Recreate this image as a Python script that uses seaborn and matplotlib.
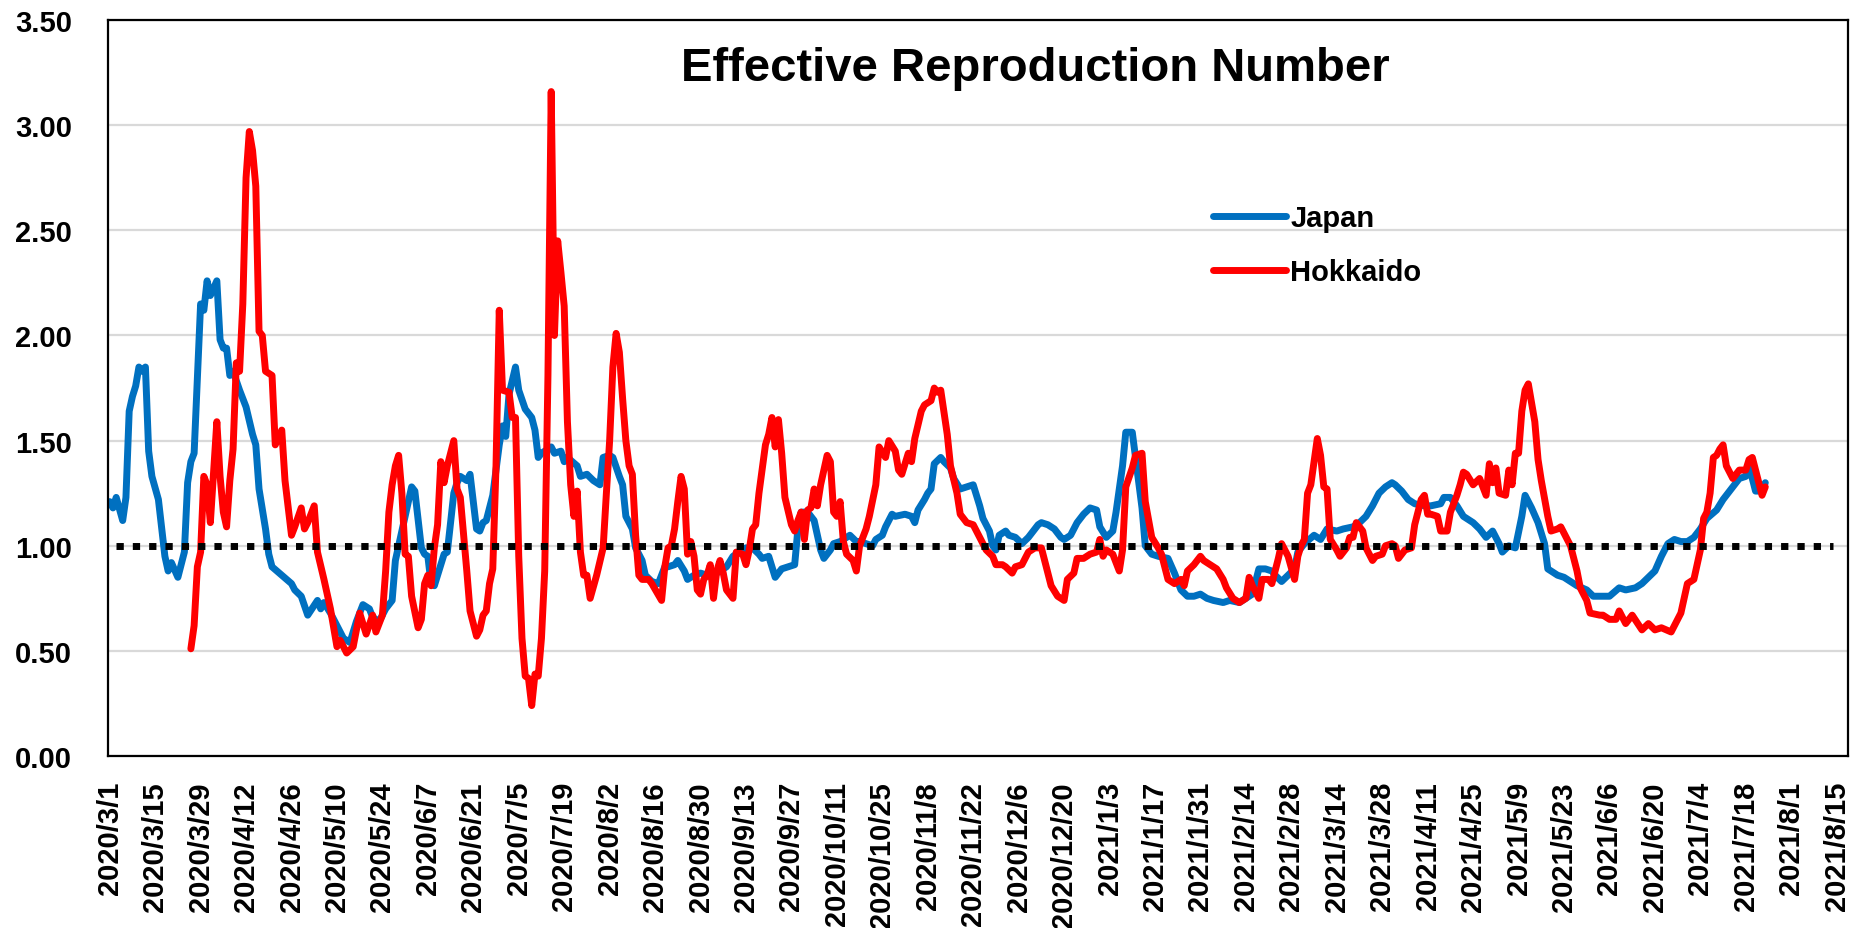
import pandas as pd
import numpy as np
import matplotlib
matplotlib.use("Agg")
import matplotlib.pyplot as plt
from matplotlib.ticker import FormatStrFormatter
import seaborn as sns

# day offsets from 2020/3/1 and the R values
start = pd.Timestamp("2020-03-01")

jp_day = [0, 1, 2, 4, 5, 6, 7, 8, 9, 10,
          11, 12, 13, 15, 17, 18, 19, 21, 23, 24,
          25, 26, 27, 28, 29, 30, 31, 33, 34, 35,
          36, 37, 38, 40, 42, 44, 45, 46, 48, 49,
          50, 53, 56, 57, 59, 61, 64, 65, 66, 68,
          70, 72, 74, 76, 78, 80, 81, 83, 85, 87,
          88, 91, 93, 94, 96, 97, 98, 99, 100, 101,
          103, 104, 106, 107, 108, 110, 111, 113, 114, 115,
          116, 117, 118, 120, 121, 122, 123, 125, 126, 128,
          130, 131, 132, 133, 136, 137, 139, 140, 141, 144,
          145, 147, 149, 151, 152, 154, 155, 157, 158, 159,
          161, 162, 164, 165, 167, 169, 171, 172, 174, 175,
          177, 178, 180, 182, 184, 186, 188, 190, 192, 194,
          196, 198, 200, 201, 203, 205, 207, 209, 211, 212,
          213, 215, 217, 219, 220, 222, 223, 225, 228, 230,
          231, 233, 235, 236, 238, 239, 241, 242, 245, 247,
          248, 249, 251, 252, 253, 254, 256, 257, 259, 260,
          262, 264, 266, 268, 269, 271, 272, 273, 274, 276,
          277, 279, 281, 283, 286, 287, 289, 291, 293, 294,
          296, 298, 300, 302, 304, 305, 307, 309, 310, 312,
          313, 315, 316, 318, 319, 321, 323, 326, 328, 330,
          332, 334, 336, 338, 340, 343, 345, 348, 350, 352,
          354, 356, 358, 359, 361, 363, 365, 366, 368, 371,
          373, 375, 378, 380, 383, 385, 387, 389, 391, 393,
          395, 396, 398, 400, 402, 405, 407, 410, 411, 413,
          415, 417, 420, 422, 424, 426, 428, 429, 431, 433,
          435, 436, 438, 440, 442, 443, 446, 448, 450, 452,
          455, 457, 462, 465, 467, 470, 472, 474, 476, 478,
          480, 482, 484, 486, 488, 490, 492, 495, 497, 500,
          502, 504, 505, 507, 509, 510]
jp_r = [1.21, 1.18, 1.23, 1.12, 1.23, 1.64, 1.71, 1.76, 1.85, 1.83,
        1.85, 1.45, 1.33, 1.22, 0.95, 0.88, 0.92, 0.85, 0.97, 1.30,
        1.40, 1.44, 1.80, 2.15, 2.12, 2.26, 2.19, 2.26, 1.98, 1.94,
        1.94, 1.81, 1.83, 1.74, 1.66, 1.53, 1.48, 1.27, 1.08, 0.96,
        0.90, 0.86, 0.82, 0.79, 0.76, 0.67, 0.74, 0.70, 0.73, 0.68,
        0.62, 0.56, 0.54, 0.64, 0.72, 0.70, 0.66, 0.64, 0.70, 0.74,
        0.93, 1.14, 1.28, 1.26, 0.99, 0.96, 0.95, 0.82, 0.81, 0.86,
        0.96, 0.97, 1.25, 1.30, 1.33, 1.31, 1.34, 1.08, 1.07, 1.11,
        1.12, 1.18, 1.24, 1.48, 1.57, 1.52, 1.72, 1.85, 1.74, 1.65,
        1.61, 1.55, 1.42, 1.44, 1.47, 1.44, 1.45, 1.40, 1.42, 1.38,
        1.33, 1.34, 1.31, 1.29, 1.42, 1.43, 1.42, 1.33, 1.29, 1.14,
        1.08, 0.99, 0.93, 0.86, 0.83, 0.82, 0.90, 0.90, 0.91, 0.93,
        0.88, 0.84, 0.86, 0.87, 0.86, 0.86, 0.88, 0.90, 0.95, 0.97,
        0.99, 0.99, 0.96, 0.94, 0.95, 0.85, 0.89, 0.90, 0.91, 1.08,
        1.16, 1.16, 1.12, 0.98, 0.94, 0.98, 1.01, 1.02, 1.05, 1.02,
        1.02, 1.01, 1.00, 1.03, 1.05, 1.09, 1.15, 1.14, 1.15, 1.14,
        1.11, 1.17, 1.22, 1.25, 1.27, 1.39, 1.42, 1.40, 1.37, 1.32,
        1.27, 1.28, 1.29, 1.19, 1.13, 1.07, 1.00, 0.98, 1.05, 1.07,
        1.05, 1.04, 1.01, 1.04, 1.10, 1.11, 1.10, 1.08, 1.04, 1.03,
        1.05, 1.11, 1.15, 1.18, 1.17, 1.09, 1.04, 1.07, 1.16, 1.38,
        1.54, 1.54, 1.42, 1.18, 1.00, 0.96, 0.95, 0.94, 0.87, 0.79,
        0.76, 0.76, 0.77, 0.75, 0.74, 0.73, 0.74, 0.73, 0.75, 0.77,
        0.89, 0.89, 0.88, 0.86, 0.83, 0.86, 0.89, 0.97, 1.01, 1.05,
        1.03, 1.08, 1.07, 1.08, 1.09, 1.11, 1.14, 1.19, 1.25, 1.28,
        1.30, 1.29, 1.26, 1.22, 1.20, 1.19, 1.19, 1.20, 1.23, 1.23,
        1.19, 1.14, 1.11, 1.08, 1.04, 1.07, 1.01, 0.97, 1.00, 0.99,
        1.14, 1.24, 1.18, 1.11, 1.01, 0.89, 0.86, 0.85, 0.83, 0.81,
        0.79, 0.76, 0.76, 0.80, 0.79, 0.80, 0.82, 0.85, 0.88, 0.95,
        1.01, 1.03, 1.02, 1.02, 1.04, 1.08, 1.13, 1.17, 1.22, 1.28,
        1.32, 1.33, 1.38, 1.26, 1.26, 1.30]

hk_day = [25, 26, 27, 28, 29, 30, 31, 33, 34, 35,
          36, 37, 38, 39, 40, 41, 42, 43, 44, 45,
          46, 47, 48, 50, 51, 53, 54, 56, 57, 59,
          60, 61, 63, 64, 66, 68, 70, 71, 73, 75,
          76, 77, 79, 81, 82, 84, 85, 86, 87, 88,
          89, 90, 91, 92, 93, 95, 96, 97, 98, 99,
          100, 101, 102, 103, 104, 106, 107, 108, 110, 111,
          113, 114, 115, 116, 117, 118, 119, 120, 121, 123,
          124, 125, 126, 127, 128, 129, 130, 131, 132, 133,
          134, 135, 136, 137, 138, 139, 140, 141, 142, 143,
          144, 145, 146, 147, 148, 150, 152, 153, 154, 155,
          156, 157, 158, 159, 160, 161, 162, 163, 164, 166,
          167, 170, 171, 172, 173, 174, 175, 176, 177, 178,
          179, 180, 181, 182, 183, 184, 185, 186, 187, 188,
          189, 190, 192, 193, 195, 196, 197, 198, 199, 200,
          202, 203, 204, 205, 206, 207, 208, 210, 211, 212,
          213, 214, 215, 216, 217, 218, 219, 221, 222, 223,
          224, 225, 226, 227, 229, 230, 231, 233, 234, 236,
          237, 239, 240, 242, 243, 244, 246, 247, 248, 250,
          251, 253, 254, 255, 256, 258, 259, 261, 262, 264,
          266, 267, 269, 270, 272, 273, 275, 276, 278, 279,
          281, 283, 285, 287, 288, 290, 292, 294, 295, 297,
          298, 300, 302, 304, 305, 306, 307, 309, 311, 312,
          313, 315, 316, 318, 319, 321, 323, 324, 326, 328,
          330, 331, 332, 334, 336, 337, 339, 341, 343, 344,
          346, 348, 350, 351, 352, 354, 355, 357, 358, 360,
          361, 363, 365, 366, 367, 368, 369, 370, 372, 373,
          374, 375, 376, 378, 379, 381, 382, 383, 384, 386,
          387, 389, 390, 392, 393, 395, 396, 397, 399, 401,
          402, 404, 405, 406, 407, 409, 410, 412, 413, 415,
          416, 417, 418, 420, 422, 423, 424, 425, 426, 427,
          428, 430, 431, 432, 433, 434, 435, 436, 437, 439,
          440, 441, 443, 444, 446, 447, 449, 450, 452, 453,
          455, 456, 459, 460, 462, 464, 465, 467, 469, 472,
          474, 476, 478, 481, 483, 484, 486, 488, 489, 490,
          491, 492, 493, 494, 495, 496, 497, 498, 500, 502,
          504, 505, 506, 507, 509, 510]
hk_r = [0.51, 0.62, 0.90, 0.97, 1.33, 1.29, 1.11, 1.59, 1.33, 1.16,
        1.09, 1.31, 1.46, 1.87, 1.83, 2.15, 2.75, 2.97, 2.88, 2.71,
        2.02, 2.00, 1.83, 1.81, 1.48, 1.55, 1.31, 1.05, 1.09, 1.18,
        1.08, 1.11, 1.19, 0.97, 0.84, 0.70, 0.52, 0.55, 0.49, 0.52,
        0.60, 0.68, 0.58, 0.67, 0.59, 0.67, 0.88, 1.16, 1.29, 1.38,
        1.43, 1.25, 0.96, 0.95, 0.76, 0.61, 0.65, 0.82, 0.86, 0.81,
        0.99, 1.10, 1.40, 1.30, 1.38, 1.50, 1.27, 1.23, 0.88, 0.69,
        0.57, 0.60, 0.67, 0.69, 0.82, 0.89, 1.38, 2.12, 1.74, 1.73,
        1.61, 1.61, 0.95, 0.56, 0.38, 0.37, 0.24, 0.39, 0.38, 0.56,
        0.88, 1.81, 3.16, 2.00, 2.45, 2.30, 2.14, 1.59, 1.29, 1.14,
        1.26, 0.97, 0.86, 0.86, 0.75, 0.86, 0.99, 1.25, 1.50, 1.85,
        2.01, 1.92, 1.70, 1.50, 1.38, 1.34, 1.05, 0.86, 0.84, 0.84,
        0.82, 0.74, 0.90, 0.99, 1.00, 1.08, 1.21, 1.33, 1.27, 0.96,
        1.02, 0.95, 0.79, 0.77, 0.84, 0.86, 0.91, 0.75, 0.88, 0.93,
        0.87, 0.79, 0.75, 0.97, 0.96, 0.91, 0.98, 1.08, 1.10, 1.25,
        1.48, 1.53, 1.61, 1.47, 1.60, 1.44, 1.23, 1.10, 1.07, 1.12,
        1.16, 1.03, 1.17, 1.18, 1.27, 1.19, 1.29, 1.43, 1.40, 1.16,
        1.14, 1.21, 1.02, 0.96, 0.93, 0.88, 1.00, 1.08, 1.14, 1.29,
        1.47, 1.42, 1.50, 1.45, 1.36, 1.34, 1.44, 1.40, 1.51, 1.64,
        1.67, 1.69, 1.75, 1.73, 1.74, 1.53, 1.38, 1.25, 1.15, 1.11,
        1.10, 1.07, 1.01, 0.98, 0.95, 0.91, 0.91, 0.90, 0.87, 0.90,
        0.91, 0.97, 0.99, 0.99, 0.93, 0.81, 0.76, 0.74, 0.84, 0.87,
        0.94, 0.94, 0.96, 0.97, 1.03, 0.95, 0.98, 0.96, 0.88, 0.98,
        1.28, 1.37, 1.43, 1.44, 1.21, 1.04, 0.99, 0.96, 0.84, 0.82,
        0.84, 0.81, 0.88, 0.91, 0.95, 0.93, 0.91, 0.89, 0.84, 0.80,
        0.75, 0.73, 0.75, 0.85, 0.81, 0.75, 0.84, 0.84, 0.82, 0.94,
        1.01, 0.95, 0.84, 0.95, 1.00, 1.03, 1.25, 1.29, 1.51, 1.43,
        1.28, 1.27, 1.03, 0.98, 0.95, 0.99, 1.04, 1.04, 1.11, 1.07,
        0.99, 0.93, 0.95, 0.96, 1.00, 1.01, 1.00, 0.94, 0.98, 0.99,
        1.10, 1.22, 1.24, 1.15, 1.15, 1.14, 1.07, 1.07, 1.16, 1.24,
        1.29, 1.35, 1.34, 1.29, 1.32, 1.28, 1.24, 1.39, 1.30, 1.37,
        1.25, 1.24, 1.36, 1.29, 1.44, 1.44, 1.64, 1.74, 1.77, 1.59,
        1.41, 1.31, 1.14, 1.07, 1.08, 1.09, 1.03, 1.00, 0.88, 0.80,
        0.74, 0.68, 0.67, 0.67, 0.65, 0.65, 0.69, 0.63, 0.67, 0.60,
        0.63, 0.60, 0.61, 0.59, 0.65, 0.68, 0.82, 0.84, 0.91, 0.98,
        1.13, 1.16, 1.25, 1.42, 1.43, 1.46, 1.48, 1.38, 1.32, 1.36,
        1.36, 1.41, 1.42, 1.36, 1.24, 1.28]

# R = 1 reference line
ref_day = [2, 531]
ref_r = [1.0, 1.0]

tick_labels = ["2020/3/1", "2020/3/15", "2020/3/29", "2020/4/12", "2020/4/26",
               "2020/5/10", "2020/5/24", "2020/6/7", "2020/6/21", "2020/7/5",
               "2020/7/19", "2020/8/2", "2020/8/16", "2020/8/30", "2020/9/13",
               "2020/9/27", "2020/10/11", "2020/10/25", "2020/11/8", "2020/11/22",
               "2020/12/6", "2020/12/20", "2021/1/3", "2021/1/17", "2021/1/31",
               "2021/2/14", "2021/2/28", "2021/3/14", "2021/3/28", "2021/4/11",
               "2021/4/25", "2021/5/9", "2021/5/23", "2021/6/6", "2021/6/20",
               "2021/7/4", "2021/7/18", "2021/8/1", "2021/8/15"]

sns.set_style("white")
plt.rcParams['font.family'] = ['Liberation Sans', 'DejaVu Sans']
plt.rcParams['font.weight'] = 'bold'
plt.rcParams['text.color'] = 'black'
plt.rcParams['xtick.color'] = 'black'
plt.rcParams['ytick.color'] = 'black'

df = pd.concat([
    pd.DataFrame({'date': start + pd.to_timedelta(jp_day, unit='D'),
                  'r': jp_r, 'region': 'Japan'}),
    pd.DataFrame({'date': start + pd.to_timedelta(hk_day, unit='D'),
                  'r': hk_r, 'region': 'Hokkaido'}),
], ignore_index=True)

fig = plt.figure(figsize=(18.54, 9.29), dpi=100)
ax = fig.add_axes([0.0583, 0.1851, 0.9385, 0.7922])

sns.lineplot(data=df, x='date', y='r', hue='region',
             hue_order=['Japan', 'Hokkaido'],
             palette={'Japan': '#0070C0', 'Hokkaido': '#FF0000'},
             lw=5, ax=ax, solid_joinstyle='round', solid_capstyle='round')

ax.plot(start + pd.to_timedelta(ref_day, unit='D'), ref_r, color='black',
        lw=5, linestyle=(0, (1.05, 1.3)), dash_capstyle='butt', zorder=5)

ax.set_ylim(0, 3.5)
ax.set_yticks(np.arange(0, 3.51, 0.5))
ax.yaxis.set_major_formatter(FormatStrFormatter('%.2f'))
ax.set_xlim(start - pd.Timedelta(hours=12), start + pd.Timedelta(days=535.5))
ax.set_xticks(pd.to_datetime(tick_labels, format='%Y/%m/%d'))
ax.set_xticklabels(tick_labels, rotation=90, fontsize=21, fontweight='bold',
                   color='black')
ax.tick_params(axis='y', labelsize=21, length=0, pad=26, labelcolor='black')
ax.tick_params(axis='x', length=0, pad=18, labelcolor='black')
for lab in ax.get_yticklabels():
    lab.set_fontweight('bold')

ax.yaxis.grid(True, color='#D9D9D9', lw=1.6)
ax.xaxis.grid(False)
ax.set_axisbelow(True)
for sp in ax.spines.values():
    sp.set_color('black')
    sp.set_linewidth(1.6)

ax.set_xlabel('')
ax.set_ylabel('')

ax.text(0.533, 0.935, "Effective Reproduction Number", transform=ax.transAxes,
        ha='center', va='center', fontsize=34, fontweight='bold', color='black')

handles, labels = ax.get_legend_handles_labels()
leg = ax.legend(handles[:2], labels[:2], frameon=False, loc='upper left',
                bbox_to_anchor=(0.635, 0.75), fontsize=21, handlelength=2.5,
                handletextpad=0.15, labelspacing=0.9, borderpad=0,
                borderaxespad=0)
for t in leg.get_texts():
    t.set_color('black')

fig.savefig("out.png", dpi=100)
